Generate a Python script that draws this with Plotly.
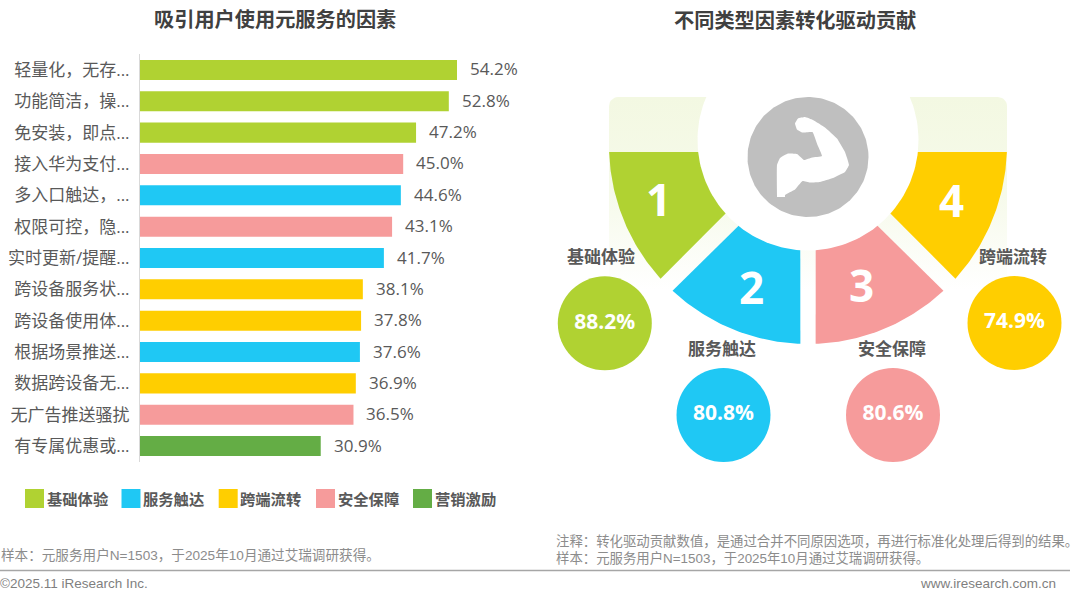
import numpy as np
import plotly.graph_objects as go

# ---- data ----
categories = ["轻量化，无存...", "功能简洁，操...", "免安装，即点...", "接入华为支付...", "多入口触达，...",
              "权限可控，隐...", "实时更新/提醒...", "跨设备服务状...", "跨设备使用体...", "根据场景推送...",
              "数据跨设备无...", "无广告推送骚扰", "有专属优惠或..."]
values = [54.2, 52.8, 47.2, 45.0, 44.6, 43.1, 41.7, 38.1, 37.8, 37.6, 36.9, 36.5, 30.9]
groups = ["基础体验", "基础体验", "基础体验", "安全保障", "服务触达", "安全保障", "服务触达",
          "跨端流转", "跨端流转", "服务触达", "跨端流转", "安全保障", "营销激励"]
legend_names = ["基础体验", "服务触达", "跨端流转", "安全保障", "营销激励"]
legend_colors = ["#B0D232", "#1FC8F4", "#FFCE00", "#F69B9B", "#64AD45"]
factor_names = ["基础体验", "服务触达", "安全保障", "跨端流转"]
factor_values = [88.2, 80.8, 80.6, 74.9]
factor_colors = ["#B0D232", "#1FC8F4", "#F69B9B", "#FFCE00"]

color_of = dict(zip(legend_names, legend_colors))
W, H = 1080, 591
TEXT = "#595959"
CJK = "'Noto Sans CJK SC'"
BODY = f"'Open Sans',{CJK},sans-serif"
SMALL = f"'Liberation Sans',{CJK},sans-serif"

fig = go.Figure()

# ---- left: bar chart ----
fig.add_trace(go.Bar(y=categories, x=values, orientation="h",
                     marker=dict(color=[color_of[g] for g in groups], line_width=0),
                     xaxis="x", yaxis="y", hoverinfo="skip", showlegend=False))

annotations = []
for c, v in zip(categories, values):
    annotations.append(dict(x=v, y=c, xref="x", yref="y", text=f"{v:.1f}%", showarrow=False,
                            xanchor="left", xshift=11, yshift=1, font=dict(size=17, color=TEXT, family=BODY)))


def label(x, y, text, size, color=TEXT, bold=False, anchor="center", family=BODY, xshift=0):
    annotations.append(dict(x=x, y=y, xref="x2", yref="y2", text=f"<b>{text}</b>" if bold else text,
                            showarrow=False, xanchor=anchor, yanchor="middle", xshift=xshift,
                            font=dict(size=size, color=color, family=family)))


# ---- right: illustration, drawn in page pixels on an overlay axis ----
def poly(xs, ys, color, **kw):
    fig.add_trace(go.Scatter(x=xs, y=ys, mode="lines", fill="toself", fillcolor=color,
                             line=dict(width=0, color=color), xaxis="x2", yaxis="y2",
                             hoverinfo="skip", showlegend=False, **kw))


CX, CY, R_OUT = 808, 145, 199
TOP, BOTTOM, LEFT, RIGHT, RC = 97, 290, 609, 1007, 9
t = np.linspace(0, np.pi / 2, 8)
band_x = np.r_[LEFT + RC - RC * np.cos(t), RIGHT - RC + RC * np.sin(t), RIGHT, LEFT]
band_y = np.r_[TOP + RC - RC * np.sin(t), TOP + RC - RC * np.cos(t), BOTTOM, BOTTOM]
fig.add_trace(go.Scatter(x=band_x, y=band_y, mode="lines", fill="toself", line_width=0,
                         fillgradient=dict(type="vertical",
                                           colorscale=[[0, "#F3F8E2"], [0.5, "#F6FAEA"], [1, "#FFFFFF"]],
                                           start=TOP, stop=BOTTOM),
                         xaxis="x2", yaxis="y2", hoverinfo="skip", showlegend=False))


def arc(a0, a1):
    a = np.radians(np.linspace(a0, a1, 50))
    return CX + R_OUT * np.cos(a), CY + R_OUT * np.sin(a)


SIDE_TOP = 152
# outer wedge (1): from the flat top round to the diagonal gap
ax, ay = arc(178, 137.8)
apex = (CX - 21, SIDE_TOP)
poly(np.r_[ax, apex[0]], np.r_[ay, apex[1]], factor_colors[0])
poly(2 * CX - np.r_[ax, apex[0]], np.r_[ay, apex[1]], factor_colors[3])
# lower wedge (2): from the diagonal gap round to the vertical gap
bx, by = arc(132.9, 92.2)
gap = 7.8
bx2 = np.r_[bx, CX - gap, CX - gap]
by2 = np.r_[by, CY + 20, CY + 20]
poly(bx2, by2, factor_colors[1])
poly(2 * CX - bx2, by2, factor_colors[2])

# white hub, grey disc and arm
a = np.linspace(0, 2 * np.pi, 181)
poly(CX + 110.5 * np.cos(a), 140 + 110.5 * np.sin(a), "#FFFFFF")
poly(CX + 60.5 * np.cos(a), 157 + 60 * np.sin(a), "#BFBFBF")
arm_x = [777, 777, 780, 788, 797, 804, 812, 822, 817.5, 812.5, 802, 797, 795, 798, 805, 813, 825, 837, 845, 849, 845, 833, 820, 810, 802.5, 795, 785, 785]
arm_y = [197, 165, 158, 153.5, 154, 160, 157.5, 156, 145, 132, 132.5, 129.5, 123.5, 118.5, 117, 120, 127.5, 138.5, 152, 165, 172, 178, 182, 182.5, 181, 189.5, 195, 197]
fig.add_trace(go.Scatter(x=arm_x, y=arm_y, mode="lines", fill="toself", fillcolor="#FFFFFF",
                         line=dict(width=0, color="#FFFFFF", shape="spline", smoothing=0.3),
                         xaxis="x2", yaxis="y2", hoverinfo="skip", showlegend=False))

# value bubbles
bubble_x = [604.8, 723.5, 893, 1014.5]
bubble_y = [323.3, 415, 415, 323]
fig.add_trace(go.Scatter(x=bubble_x, y=bubble_y, mode="markers+text",
                         marker=dict(size=94, color=factor_colors, line_width=0),
                         text=[f"<b>{v:.1f}%</b>" for v in factor_values], textposition="middle center",
                         textfont=dict(size=21, color="#FFFFFF", family=BODY),
                         xaxis="x2", yaxis="y2", hoverinfo="skip", showlegend=False))

for (x, y), n in zip([(600.7, 256), (722, 348.7), (891.7, 348.7), (1013, 256)], factor_names):
    label(x, y, n, 17, bold=True)
for (x, y), n in zip([(658, 199), (751, 287), (861, 285), (951, 200)], ["1", "2", "3", "4"]):
    label(x, y, n, 44, color="#FFFFFF", bold=True)

# titles
label(275, 19, "吸引用户使用元服务的因素", 20.2, color="#404040", bold=True)
label(795, 20, "不同类型因素转化驱动贡献", 20.2, color="#404040", bold=True)

# legend
shapes = []
for x0, n, c in zip([25, 121.5, 218.7, 316, 413], legend_names, legend_colors):
    shapes.append(dict(type="rect", xref="x2", yref="y2", x0=x0, x1=x0 + 19, y0=489, y1=508,
                       fillcolor=c, line_width=0))
    label(x0 + 19.5, 499, n, 15.3, bold=True, anchor="left")

# footers
NOTE = "#8C8C8C"
label(0, 555, "样本：元服务用户N=1503，于2025年10月通过艾瑞调研获得。", 13.6, NOTE, anchor="left", family=SMALL, xshift=-1)
label(553.5, 541, "注释：转化驱动贡献数值，是通过合并不同原因选项，再进行标准化处理后得到的结果。", 13.4, NOTE, anchor="left", family=SMALL)
label(553.5, 557.5, "样本：元服务用户N=1503，于2025年10月通过艾瑞调研获得。", 13.4, NOTE, anchor="left", family=SMALL)
label(0, 583, "©2025.11 iResearch Inc.", 13.5, "#7F7F7F", anchor="left", family=SMALL, xshift=-2)
label(1058, 583, "www.iresearch.com.cn", 13.5, "#7F7F7F", anchor="right", family=SMALL)
shapes.append(dict(type="line", xref="x2", yref="y2", x0=0, x1=1070, y0=570.5, y1=570.5,
                   line=dict(color="#A6A6A6", width=1.5)))

PX_PER_UNIT = (457 - 140) / 54.2
fig.update_layout(
    width=W, height=H, margin=dict(l=0, r=0, t=0, b=0), autosize=False,
    paper_bgcolor="#FFFFFF", plot_bgcolor="rgba(0,0,0,0)", showlegend=False,
    bargap=0.36, annotations=annotations, shapes=shapes,
    font=dict(family=BODY, color=TEXT),
    xaxis=dict(domain=[140 / W, 540 / W], range=[0, 400 / PX_PER_UNIT], visible=False, fixedrange=True),
    yaxis=dict(domain=[(H - 461.7) / H, (H - 54.3) / H], autorange="reversed", type="category",
               categoryorder="array", categoryarray=categories,
               showline=True, linecolor="#D9D9D9", linewidth=1, showgrid=False, zeroline=False,
               ticks="", ticklabelstandoff=6, tickfont=dict(size=17, color=TEXT, family=BODY), fixedrange=True),
    xaxis2=dict(domain=[0, 1], range=[0, W], visible=False, anchor="y2", fixedrange=True),
    yaxis2=dict(domain=[0, 1], range=[H, 0], visible=False, anchor="x2", fixedrange=True),
)

fig.write_html("out.html", config={"displayModeBar": False},
               post_script="document.body.style.margin='0';document.documentElement.style.overflow='hidden';")
